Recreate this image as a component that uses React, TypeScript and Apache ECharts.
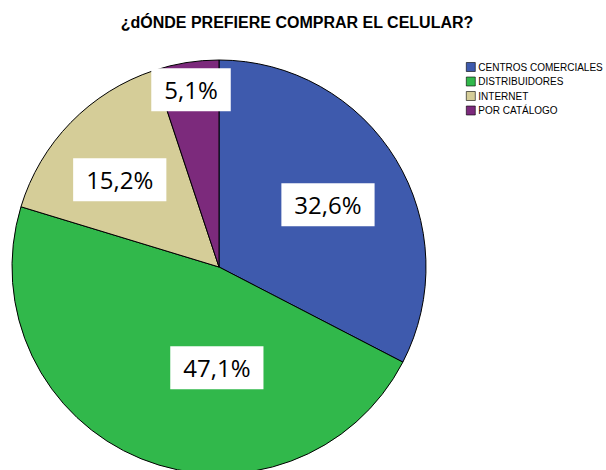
import React, { useEffect, useRef } from "react";
import * as echarts from "echarts";

const categories = ["CENTROS COMERCIALES", "DISTRIBUIDORES", "INTERNET", "POR CATÁLOGO"];
const values = [32.6, 47.1, 15.2, 5.1];
const colors = ["#3E5AAD", "#31B84B", "#D5CD98", "#7C2A7C"];
const labelOffsets = [[18, -7], [38, 2], [-23, -13], [-11, -72]];

export default function App() {
  const ref = useRef<HTMLDivElement>(null);
  useEffect(() => {
    if (!ref.current) return;
    const chart = echarts.init(ref.current, null, { renderer: "svg" });
    chart.setOption({
      animation: false,
      backgroundColor: "#ffffff",
      title: {
        text: "¿dÓNDE PREFIERE COMPRAR EL CELULAR?",
        left: 292,
        top: 9,
        textAlign: "center",
        textStyle: { fontFamily: "Liberation Sans", fontSize: 16, fontWeight: "bold", color: "#000" },
      },
      legend: {
        orient: "vertical",
        left: 461,
        top: 56,
        itemWidth: 9,
        itemHeight: 9,
        itemGap: 2.5,
        icon: "rect",
        textStyle: { fontFamily: "Liberation Sans", fontSize: 10, color: "#000", padding: [0, 0, 0, -2], lineHeight: 12 },
        itemStyle: { borderColor: "#000", borderWidth: 0.6 },
        data: categories,
      },
      series: [
        {
          type: "pie",
          center: [219, 267],
          radius: 207,
          startAngle: 90,
          clockwise: true,
          silent: true,
          itemStyle: { borderColor: "#000", borderWidth: 1 },
          label: {
            show: true,
            position: "inside",
            formatter: (p: any) => p.value.toFixed(1).replace(".", ",") + "%",
            fontFamily: "Open Sans",
            fontSize: 24,
            lineHeight: 26,
            color: "#000",
            backgroundColor: "#fff",
            padding: [9, 13, 8, 13],
          },
          labelLine: { show: false },
          data: categories.map((name, i) => ({
            name,
            value: values[i],
            itemStyle: { color: colors[i] },
            label: { offset: labelOffsets[i] },
          })),
        },
      ],
    });
    return () => chart.dispose();
  }, []);
  return <div ref={ref} style={{ position: "fixed", left: 0, top: 0, width: 606, height: 470 }} />;
}
